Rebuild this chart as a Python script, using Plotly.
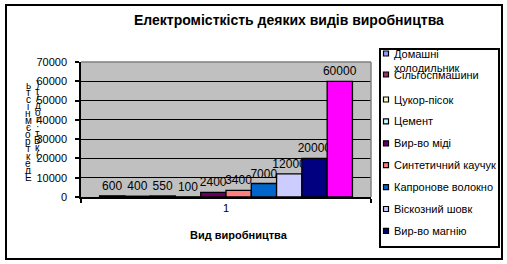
import plotly.graph_objects as go

# ---------------- data ----------------
CATEGORY = ["1"]
PRODUCTS = ["Домашні холодильник", "Сільгоспмашини", "Цукор-пісок", "Цемент",
            "Вир-во міді", "Синтетичний каучук", "Капронове волокно",
            "Віскозний шовк", "Вир-во магнію", "Вир-во титану"]
VALUES = [600, 400, 550, 100, 2400, 3400, 7000, 12000, 20000, 60000]
COLORS = ["#9999FF", "#993366", "#FFFFCC", "#CCFFFF", "#660066",
          "#FF8080", "#0066CC", "#CCCCFF", "#000080", "#FF00FF"]
Y_TICKS = [0, 10000, 20000, 30000, 40000, 50000, 60000, 70000]
TITLE = "Електромісткість деяких видів виробництва"
X_TITLE = "Вид виробництва"
Y_TITLE_1 = "Електроємність"
Y_TITLE_2 = "(кВт·год/т)"
LEGEND_SHOWN = 9  # legend box in the original is cut after 9 entries

FONT = "Arial, 'Liberation Sans', sans-serif"

# ---------------- layout geometry (pixels) ----------------
W, H = 507, 264
PL, PR, PT, PB = 81, 371, 62, 197   # plot area edges


def px(x):
    return (x - PL) / (PR - PL)


def py(y):
    return (PB - y) / (PB - PT)


fig = go.Figure()
for name, val, col in zip(PRODUCTS, VALUES, COLORS):
    fig.add_trace(go.Bar(
        x=CATEGORY, y=[val], name=name, text=[str(val)],
        textposition="outside", constraintext="none", cliponaxis=False,
        textfont=dict(family=FONT, size=12, color="black"),
        marker=dict(color=col, line=dict(color="black", width=1.3)),
        showlegend=False,
    ))

shapes = []
annotations = []

# outer chart border
shapes.append(dict(type="rect", xref="paper", yref="paper",
                   x0=px(6), x1=px(502), y0=py(259), y1=py(5),
                   line=dict(color="black", width=2), fillcolor="rgba(0,0,0,0)",
                   layer="above"))
# plot-area gray border (top and right)
shapes.append(dict(type="line", xref="paper", yref="paper", x0=0, x1=1, y0=1, y1=1,
                   line=dict(color="#808080", width=1.5), layer="above"))
shapes.append(dict(type="line", xref="paper", yref="paper", x0=1, x1=1, y0=0, y1=1,
                   line=dict(color="#808080", width=1.5), layer="above"))

# legend box
shapes.append(dict(type="rect", xref="paper", yref="paper",
                   x0=px(380), x1=px(499), y0=py(247), y1=py(49),
                   line=dict(color="black", width=2), fillcolor="white", layer="above"))
for i in range(LEGEND_SHOWN):
    if i == 0:
        ty, my = 61, 53.5
        label = PRODUCTS[i].replace(" ", "<br>", 1)
    elif i == 1:
        ty, my = 74.5, 74.5
        label = PRODUCTS[i]
    else:
        ty = 99.5 + 21.9 * (i - 2)
        my = ty
        label = PRODUCTS[i]
    shapes.append(dict(type="rect", xref="paper", yref="paper",
                       x0=px(383.5), x1=px(388.5), y0=py(my + 2.5), y1=py(my - 2.5),
                       line=dict(color="black", width=1.2), fillcolor=COLORS[i],
                       layer="above"))
    annotations.append(dict(xref="paper", yref="paper", x=px(392), y=py(ty),
                            xanchor="left", yanchor="middle", text=label,
                            showarrow=False, align="left",
                            font=dict(family=FONT, size=11, color="black")))

# title
annotations.append(dict(xref="paper", yref="paper", x=px(289), y=py(20),
                        xanchor="center", yanchor="middle", text="<b>%s</b>" % TITLE,
                        showarrow=False, font=dict(family=FONT, size=14, color="black")))
# x-axis title
annotations.append(dict(xref="paper", yref="paper", x=px(239), y=py(235),
                        xanchor="center", yanchor="middle", text="<b>%s</b>" % X_TITLE,
                        showarrow=False, font=dict(family=FONT, size=11, color="black")))

# stacked (garbled) vertical y-axis title, read bottom-to-top
for text, xc, ytop, step in [(Y_TITLE_1, 28, 85, 7.1), (Y_TITLE_2, 37.5, 84, 7.0)]:
    chars = list(reversed(text))
    for k, ch in enumerate(chars):
        annotations.append(dict(xref="paper", yref="paper", x=px(xc), y=py(ytop + step * k),
                                xanchor="center", yanchor="middle", text=ch,
                                showarrow=False,
                                font=dict(family=FONT, size=10, color="black")))

fig.update_layout(
    width=W, height=H, autosize=False,
    margin=dict(l=PL, r=W - PR, t=PT, b=H - PB, pad=0),
    paper_bgcolor="white", plot_bgcolor="#C0C0C0",
    barmode="group", bargap=0.128, bargroupgap=0,
    showlegend=False,
    shapes=shapes, annotations=annotations,
    font=dict(family=FONT, size=11, color="black"),
)
fig.update_xaxes(type="category", range=[-0.5, 0.5], tickson="boundaries",
                 ticks="outside", ticklen=4, tickcolor="black", tickwidth=1.5,
                 showline=True, linecolor="black", linewidth=1.5,
                 showgrid=False, zeroline=False,
                 tickfont=dict(family=FONT, size=11, color="black"))
fig.update_yaxes(range=[0, 70000], tickvals=Y_TICKS, ticktext=[str(v) for v in Y_TICKS],
                 ticks="outside", ticklen=4, tickcolor="black", tickwidth=1.5,
                 ticklabelstandoff=6,
                 showline=True, linecolor="black", linewidth=1.5,
                 showgrid=True, gridcolor="black", gridwidth=1.2, zeroline=False,
                 tickfont=dict(family=FONT, size=11, color="black"))

fig.write_html("out.html")
